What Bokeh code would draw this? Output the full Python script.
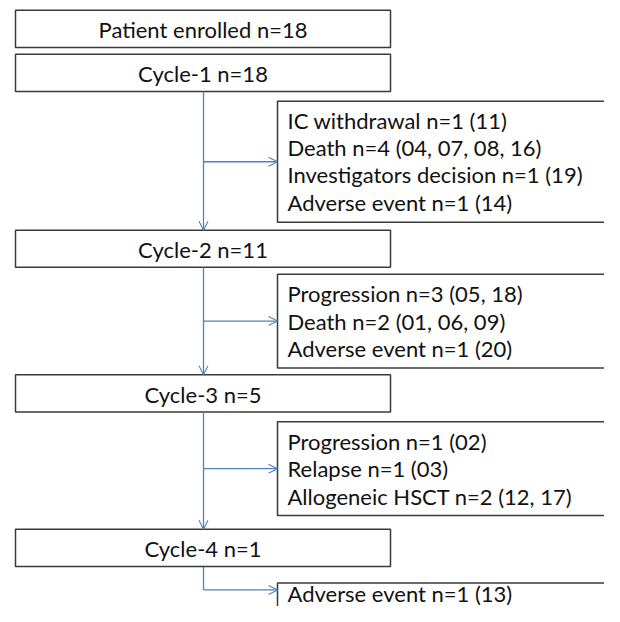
from bokeh.plotting import figure
from bokeh.models import Range1d, ColumnDataSource, Arrow, OpenHead
from bokeh.core.properties import value
from bokeh.embed import file_html
from bokeh.resources import INLINE

# ---- data ----
stage_names = ["Patient enrolled", "Cycle-1", "Cycle-2", "Cycle-3", "Cycle-4"]
stage_n = [18, 18, 11, 5, 1]

exit1_reasons = ["IC withdrawal", "Death", "Investigators decision", "Adverse event"]
exit1_n = [1, 4, 1, 1]
exit1_ids = ["11", "04, 07, 08, 16", "19", "14"]

exit2_reasons = ["Progression", "Death", "Adverse event"]
exit2_n = [3, 2, 1]
exit2_ids = ["05, 18", "01, 06, 09", "20"]

exit3_reasons = ["Progression", "Relapse", "Allogeneic HSCT"]
exit3_n = [1, 1, 2]
exit3_ids = ["02", "03", "12, 17"]

exit4_reasons = ["Adverse event"]
exit4_n = [1]
exit4_ids = ["13"]

# ---- layout (reference pixel coordinates) ----
stage_left, stage_right = 15, 390
stage_top = [10, 55, 235, 383, 541]
stage_h = 38
trunk_x = 203
exit_left, exit_right = 277, 660
exit_top = [103, 280, 431, 596]
exit_bottom = [227, 376, 527, 680]
exit_first_line = [122.5, 300, 451, 607]
branch_y = [165, 328, 479, 603]
line_gap = 28
text_x = 287

BOX_LINE = "#3a3a3a"
BLUE = "#4f81bd"
TXT = "#111111"
FONT = value("Lato")
FSIZE = "22px"

p = figure(width=604, height=606, x_range=Range1d(0, 604), y_range=Range1d(620, 0),
           output_backend="svg", toolbar_location=None, min_border=0)
p.axis.visible = False
p.grid.visible = False
p.outline_line_color = None
p.background_fill_color = "white"
p.border_fill_color = "white"

# connector lines (trunk)
seg_x0, seg_y0, seg_x1, seg_y1 = [], [], [], []
for i in range(1, 4):
    seg_x0.append(trunk_x); seg_y0.append(stage_top[i] + stage_h)
    seg_x1.append(trunk_x); seg_y1.append(stage_top[i + 1])
p.segment(x0=[trunk_x], y0=[stage_top[4] + stage_h], x1=[trunk_x], y1=[branch_y[3]],
          line_color=BLUE, line_width=1.3)

down = ColumnDataSource(dict(x0=seg_x0, y0=seg_y0, x1=seg_x1, y1=seg_y1))
p.add_layout(Arrow(source=down, x_start="x0", y_start="y0", x_end="x1", y_end="y1",
                   line_color=BLUE, line_width=1.3,
                   end=OpenHead(size=9, line_color=BLUE, line_width=1.1)))
br = ColumnDataSource(dict(x0=[trunk_x] * 4, y0=branch_y, x1=[exit_left] * 4, y1=branch_y))
p.add_layout(Arrow(source=br, x_start="x0", y_start="y0", x_end="x1", y_end="y1",
                   line_color=BLUE, line_width=1.3,
                   end=OpenHead(size=9, line_color=BLUE, line_width=1.1)))

# stage boxes
p.quad(left=[stage_left] * 5, right=[stage_right] * 5,
       top=stage_top, bottom=[t + stage_h for t in stage_top],
       fill_color="white", line_color=BOX_LINE, line_width=1.5)
stage_labels = [f"{s} n={n}" for s, n in zip(stage_names, stage_n)]
p.text(x=[(stage_left + stage_right) / 2] * 5, y=[t + stage_h / 2 + 1 for t in stage_top],
       text=stage_labels, text_align="center", text_baseline="middle",
       text_font=FONT, text_font_size=FSIZE, text_color=TXT)

# exit boxes
p.quad(left=[exit_left] * 4, right=[exit_right] * 4, top=exit_top, bottom=exit_bottom,
       fill_color="white", line_color=BOX_LINE, line_width=1.5)

groups = [(exit1_reasons, exit1_n, exit1_ids), (exit2_reasons, exit2_n, exit2_ids),
          (exit3_reasons, exit3_n, exit3_ids), (exit4_reasons, exit4_n, exit4_ids)]
tx, ty, tt = [], [], []
for gi, (reasons, ns, ids) in enumerate(groups):
    for j, (r, n, d) in enumerate(zip(reasons, ns, ids)):
        tx.append(text_x)
        ty.append(exit_first_line[gi] + j * line_gap)
        tt.append(f"{r} n={n} ({d})")
p.text(x=tx, y=ty, text=tt, text_align="left", text_baseline="middle",
       text_font=FONT, text_font_size=FSIZE, text_color=TXT)

open("out.html", "w").write(file_html(p, INLINE))
